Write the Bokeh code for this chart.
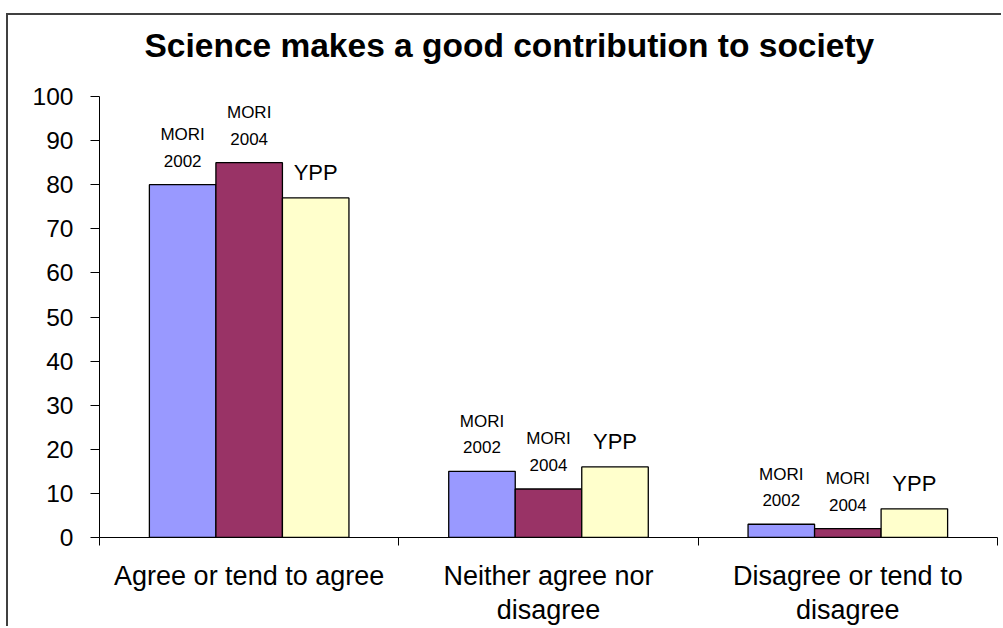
from bokeh.plotting import figure
from bokeh.models import Range1d, FixedTicker, ColumnDataSource
from bokeh.core.properties import value
from bokeh.embed import file_html
from bokeh.resources import INLINE
import numpy as np

title_text = "Science makes a good contribution to society"
categories = ["Agree or tend to agree", "Neither agree nor\ndisagree", "Disagree or tend to\ndisagree"]
series = ["MORI 2002", "MORI 2004", "YPP"]
mori_2002 = [80, 15, 3]
mori_2004 = [85, 11, 2]
ypp = [77, 16, 6.5]
series_top_line = ["MORI", "MORI", ""]
series_bottom_line = ["2002", "2004", "YPP"]
colors = ["#9999FF", "#993366", "#FFFFCC"]
y_ticks = [0, 10, 20, 30, 40, 50, 60, 70, 80, 90, 100]

FONT = "Liberation Sans"
n_cat = len(categories)
n_ser = len(series)
gap = 1.5  # gap between groups, in bar widths
bar_w = 1.0 / (n_ser + gap)

# plotting area runs to the top of the canvas; the value axis stops at 100
# and the heading sits in the headroom above it
plot_h = 522          # frame height in px
axis_h = 441          # px used by the 0..100 value scale
y_top = 100 * plot_h / axis_h

p = figure(width=995, height=613, output_backend="svg", toolbar_location=None,
           x_range=Range1d(0, n_cat), y_range=Range1d(0, y_top),
           min_border_left=91, min_border_right=6, min_border_top=0, min_border_bottom=91)
p.margin = (13, 0, 0, 6)
p.styles = {"border-top": "2px solid #404040", "border-left": "2px solid #404040"}
p.outline_line_color = None
p.background_fill_color = "white"
p.border_fill_color = "white"
p.xgrid.visible = False
p.ygrid.visible = False

p.text(x=[0], y=[100], text=[title_text], x_offset=45, y_offset=-51,
       text_align="left", text_baseline="alphabetic",
       text_font=value(FONT), text_font_size="33.5px", text_font_style="bold",
       text_color="black")

values = [mori_2002, mori_2004, ypp]
for k in range(n_ser):
    xs = np.arange(n_cat) + 0.5 + (k - (n_ser - 1) / 2) * bar_w
    src = ColumnDataSource(dict(x=xs, top=values[k],
                                l1=[series_top_line[k]] * n_cat,
                                l2=[series_bottom_line[k]] * n_cat))
    p.vbar(x="x", top="top", bottom=0, width=bar_w, source=src,
           fill_color=colors[k], line_color="black", line_width=1.3)
    if series_top_line[k]:
        p.text(x="x", y="top", text="l1", source=src, y_offset=-50,
               text_align="center", text_baseline="middle",
               text_font=value(FONT), text_font_size="17px", text_color="black")
        p.text(x="x", y="top", text="l2", source=src, y_offset=-24,
               text_align="center", text_baseline="middle",
               text_font=value(FONT), text_font_size="17px", text_color="black")
    else:
        p.text(x="x", y="top", text="l2", source=src, y_offset=-25,
               text_align="center", text_baseline="middle",
               text_font=value(FONT), text_font_size="22px", text_color="black")

# x axis: labels centred under each group, minor ticks on group boundaries
xa = p.xaxis[0]
centers = [i + 0.5 for i in range(n_cat)]
xa.ticker = FixedTicker(ticks=centers, minor_ticks=list(range(n_cat + 1)))
xa.major_label_overrides = {c: lab for c, lab in zip(centers, categories)}
xa.major_tick_out = 0
xa.major_tick_in = 0
xa.minor_tick_out = 8
xa.minor_tick_in = 0
xa.minor_tick_line_color = "black"
xa.axis_line_color = "black"
xa.major_label_text_font = FONT
xa.major_label_text_font_size = "27px"
xa.major_label_text_line_height = 1.15
xa.major_label_text_color = "black"
xa.major_label_standoff = 15

ya = p.yaxis[0]
ya.ticker = FixedTicker(ticks=y_ticks)
ya.bounds = (0, 100)
ya.minor_tick_line_color = None
ya.major_tick_out = 9
ya.major_tick_in = 0
ya.major_tick_line_color = "black"
ya.axis_line_color = "black"
ya.major_label_text_font = FONT
ya.major_label_text_font_size = "24.5px"
ya.major_label_text_color = "black"
ya.major_label_standoff = 17

open("out.html", "w").write(file_html(p, INLINE))
